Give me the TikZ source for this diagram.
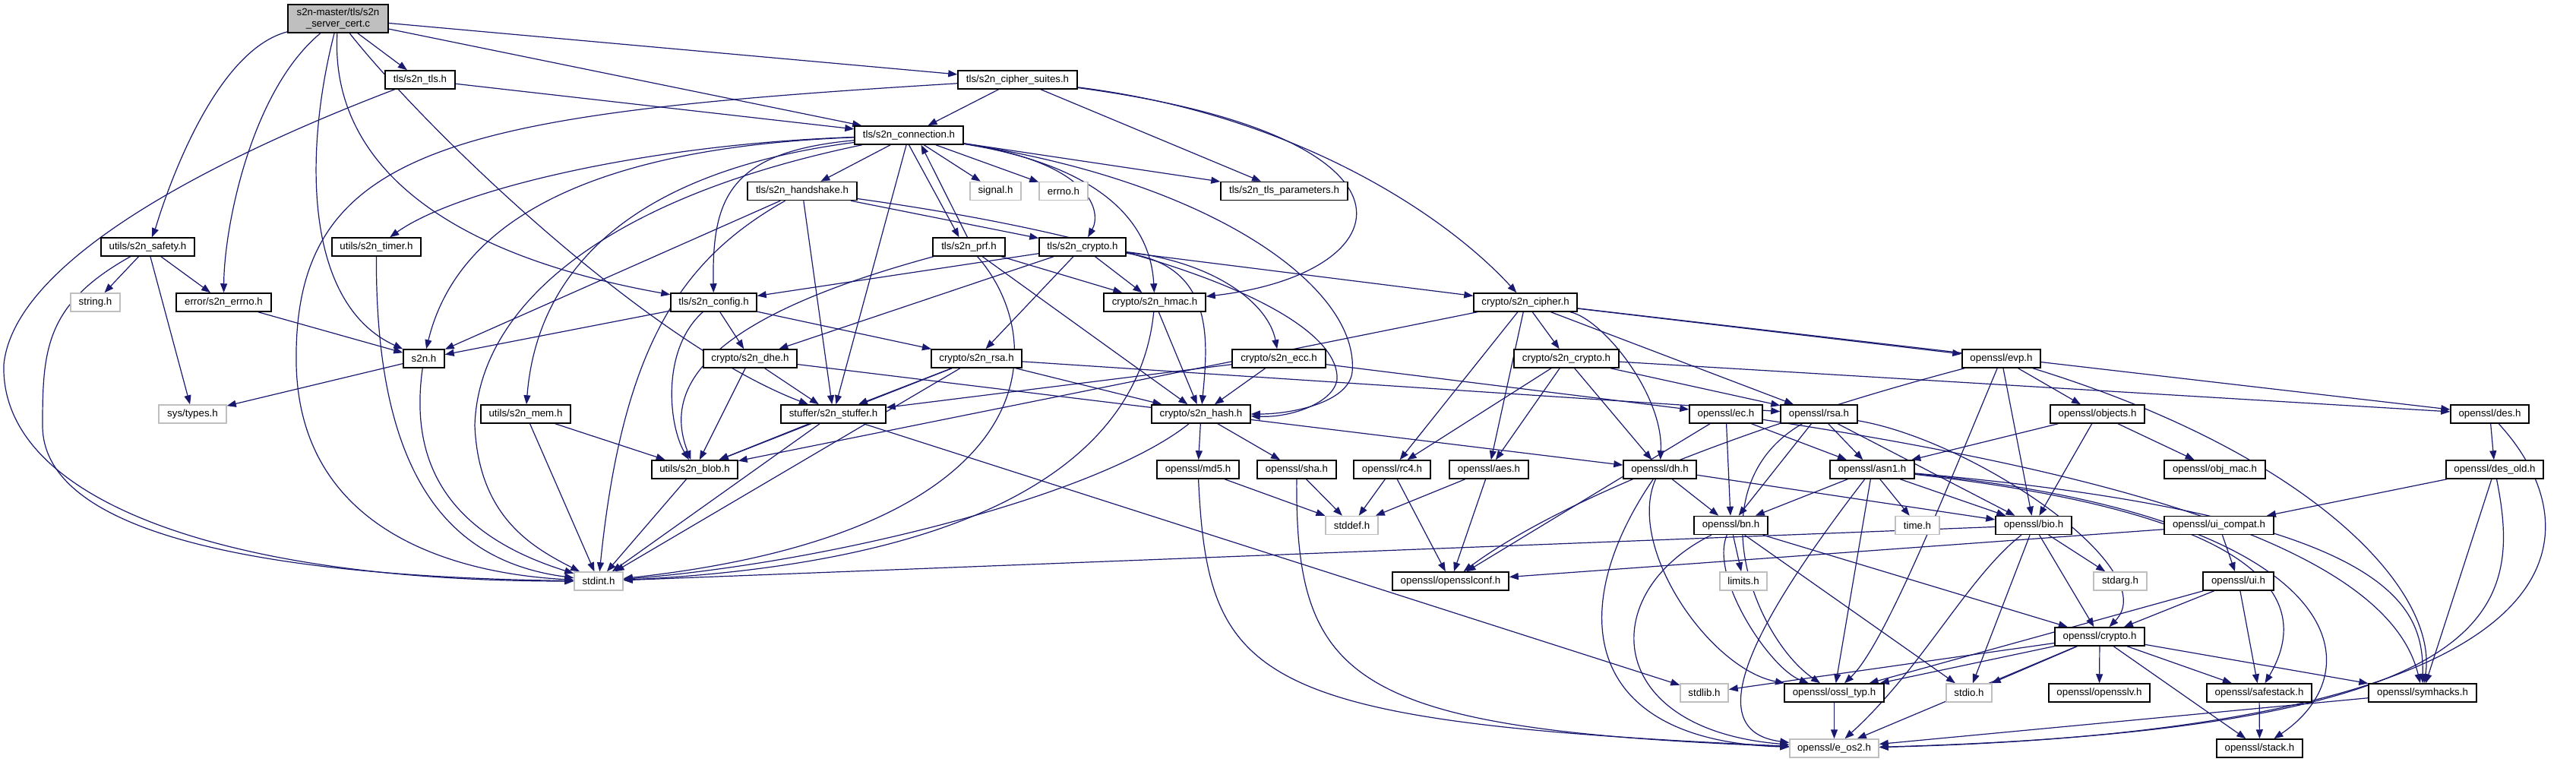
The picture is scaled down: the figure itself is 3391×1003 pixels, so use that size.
\documentclass[tikz,border=0pt]{standalone}
\usepackage{fontspec}
\setmainfont{Liberation Sans}
\usetikzlibrary{arrows.meta}
\definecolor{edgec}{HTML}{191970}
\definecolor{grayb}{HTML}{BFBFBF}
\pgfdeclarelayer{bg}
\pgfsetlayers{bg,main}
\tikzset{
 hdr/.style={draw=black, line width=1.5pt, fill=white, minimum height=24pt, inner sep=0pt, text=black, font=\fontsize{13.3pt}{15pt}\selectfont},
 sys/.style={hdr, draw=grayb},
 e/.style={draw=edgec, line width=1.2pt, -{Triangle[length=12pt,width=9pt]}},
}
\begin{document}
\begin{tikzpicture}[x=1pt,y=-1pt]
\useasboundingbox (0,0) rectangle (3391,1003);
% nodes
\node[hdr, fill=grayb, minimum width=132pt, minimum height=37pt, align=center] (root) at (445,24.5) {s2n-master/tls/s2n\\\_server\_cert.c};
\node[hdr, minimum width=92pt] (tlsh) at (553,105) {tls/s2n\_tls.h};
\node[hdr, minimum width=157pt] (suites) at (1339.5,105) {tls/s2n\_cipher\_suites.h};
\node[hdr, minimum width=143pt] (conn) at (1196.5,178) {tls/s2n\_connection.h};
\node[hdr, minimum width=144pt] (hs) at (1056,251.5) {tls/s2n\_handshake.h};
\node[sys, minimum width=67pt] (signal) at (1310.5,251.5) {signal.h};
\node[sys, minimum width=64pt] (errno) at (1400,251.5) {errno.h};
\node[hdr, minimum width=167pt] (params) at (1690.5,251.5) {tls/s2n\_tls\_parameters.h};
\node[hdr, minimum width=123pt] (safety) at (194.5,325) {utils/s2n\_safety.h};
\node[hdr, minimum width=117pt] (timer) at (495.5,325) {utils/s2n\_timer.h};
\node[hdr, minimum width=95pt] (prf) at (1275.5,325) {tls/s2n\_prf.h};
\node[hdr, minimum width=114pt] (tcrypto) at (1425,325) {tls/s2n\_crypto.h};
\node[sys, minimum width=65pt] (strh) at (125.5,398) {string.h};
\node[hdr, minimum width=125pt] (errh) at (294.5,398) {error/s2n\_errno.h};
\node[hdr, minimum width=113pt] (config) at (939.5,398) {tls/s2n\_config.h};
\node[hdr, minimum width=134pt] (hmac) at (1520,398) {crypto/s2n\_hmac.h};
\node[hdr, minimum width=136pt] (cipher) at (2008,398) {crypto/s2n\_cipher.h};
\node[hdr, minimum width=54pt] (s2nh) at (558,472) {s2n.h};
\node[hdr, minimum width=123pt] (dhe) at (987.5,472) {crypto/s2n\_dhe.h};
\node[hdr, minimum width=119pt] (rsa) at (1285.5,472) {crypto/s2n\_rsa.h};
\node[hdr, minimum width=123pt] (ecc) at (1683.5,472) {crypto/s2n\_ecc.h};
\node[hdr, minimum width=138pt] (ccrypto) at (2062,472) {crypto/s2n\_crypto.h};
\node[hdr, minimum width=103pt] (evp) at (2634.5,472) {openssl/evp.h};
\node[sys, minimum width=89pt] (systypes) at (253.5,545) {sys/types.h};
\node[hdr, minimum width=118pt] (mem) at (692,545) {utils/s2n\_mem.h};
\node[hdr, minimum width=138pt] (stuffer) at (1097,545) {stuffer/s2n\_stuffer.h};
\node[hdr, minimum width=130pt] (hash) at (1581,545) {crypto/s2n\_hash.h};
\node[hdr, minimum width=96pt] (oec) at (2272,545) {openssl/ec.h};
\node[hdr, minimum width=101pt] (orsa) at (2394.5,545) {openssl/rsa.h};
\node[hdr, minimum width=124pt] (objects) at (2761,545) {openssl/objects.h};
\node[hdr, minimum width=103pt] (des) at (3277.5,545) {openssl/des.h};
\node[hdr, minimum width=113pt] (blob) at (914.5,618) {utils/s2n\_blob.h};
\node[hdr, minimum width=108pt] (md5) at (1577,618) {openssl/md5.h};
\node[hdr, minimum width=104pt] (sha) at (1707,618) {openssl/sha.h};
\node[hdr, minimum width=101pt] (rc4) at (1832.5,618) {openssl/rc4.h};
\node[hdr, minimum width=104pt] (aes) at (1960,618) {openssl/aes.h};
\node[hdr, minimum width=96pt] (dh) at (2185,618) {openssl/dh.h};
\node[hdr, minimum width=111pt] (asn1) at (2464.5,618) {openssl/asn1.h};
\node[hdr, minimum width=133pt] (objmac) at (2915.5,618) {openssl/obj\_mac.h};
\node[hdr, minimum width=128pt] (desold) at (3284,618) {openssl/des\_old.h};
\node[sys, minimum width=69pt] (stddef) at (1779.5,691.5) {stddef.h};
\node[hdr, minimum width=97pt] (bn) at (2278.5,691.5) {openssl/bn.h};
\node[sys, minimum width=58pt] (timeh) at (2524,691.5) {time.h};
\node[hdr, minimum width=100pt] (bio) at (2677,691.5) {openssl/bio.h};
\node[hdr, minimum width=144pt] (uicompat) at (2921,691.5) {openssl/ui\_compat.h};
\node[sys, minimum width=64pt] (stdint) at (788,765) {stdint.h};
\node[hdr, minimum width=153pt] (conf) at (1909.5,765) {openssl/opensslconf.h};
\node[sys, minimum width=62pt] (limits) at (2295,765) {limits.h};
\node[sys, minimum width=70pt] (stdarg) at (2791,765) {stdarg.h};
\node[hdr, minimum width=93pt] (ui) at (2946.5,765) {openssl/ui.h};
\node[hdr, minimum width=118pt] (ocrypto) at (2764,838) {openssl/crypto.h};
\node[sys, minimum width=63pt] (stdlib) at (2243.5,912) {stdlib.h};
\node[hdr, minimum width=131pt] (ossltyp) at (2414.5,912) {openssl/ossl\_typ.h};
\node[sys, minimum width=60pt] (stdio) at (2592,912) {stdio.h};
\node[hdr, minimum width=133pt] (opensslv) at (2763.5,912) {openssl/opensslv.h};
\node[hdr, minimum width=138pt] (safestack) at (2974,912) {openssl/safestack.h};
\node[hdr, minimum width=142pt] (symhacks) at (3189,912) {openssl/symhacks.h};
\node[sys, minimum width=117pt] (eos2) at (2414.5,985) {openssl/e\_os2.h};
\node[hdr, minimum width=113pt] (stack) at (2974.5,985) {openssl/stack.h};
% edges
\begin{pgfonlayer}{bg}
% root
\draw[e] (root) .. controls (270,70) and (205,300) .. (safety);
\draw[e] (root) .. controls (330,120) and (295,300) .. (errh);
\draw[e] (root) .. controls (400,200) and (400,400) .. (s2nh);
\draw[e] (root) .. controls (435,200) and (560,330) .. (config);
\draw[e] (root) .. controls (560,170) and (850,450) .. (stuffer);
\draw[e] (root) -- (tlsh);
\draw[e] (root) -- (conn);
\draw[e] (root) -- (suites);
% tls.h
\draw[e] (tlsh) -- (conn);
\draw[e] (tlsh) .. controls (330,190) and (20,330) .. (5,480) .. controls (0,660) and (300,765) .. (stdint);
% cipher suites
\draw[e] (suites) -- (conn);
\draw[e] (suites) -- (params);
\draw[e] (suites) .. controls (1700,150) and (1900,280) .. (cipher);
\draw[e] (suites) .. controls (1900,180) and (1850,360) .. (hmac);
\draw[e] (suites) .. controls (600,150) and (385,190) .. (390,480) .. controls (395,700) and (600,755) .. (stdint);
% connection
\draw[e] (conn) -- (hs);
\draw[e] (conn) -- (signal);
\draw[e] (conn) -- (errno);
\draw[e] (conn) -- (params);
\draw[e] (conn.south) -- ([xshift=-13pt]prf.north);
\draw[e] ([xshift=-2pt]prf.north) -- ([xshift=16pt]conn.south);
\draw[e] (conn) .. controls (1440,215) and (1450,280) .. (tcrypto);
\draw[e] (conn) .. controls (1460,220) and (1515,300) .. (hmac);
\draw[e] (conn) .. controls (960,200) and (937,260) .. (config);
\draw[e] (conn) .. controls (850,190) and (600,250) .. (timer);
\draw[e] (conn) .. controls (760,195) and (600,300) .. (s2nh);
\draw[e] (conn) .. controls (800,230) and (705,380) .. (mem);
\draw[e] (conn) .. controls (800,260) and (630,400) .. (625,560) .. controls (630,680) and (700,720) .. (stdint);
\draw[e] (conn) -- (stuffer);
\draw[e] (conn) .. controls (1600,240) and (1790,380) .. (1780,490) .. controls (1775,530) and (1700,545) .. (hash);
% handshake
\draw[e] (hs) -- (s2nh);
\draw[e] (hs) -- (stuffer);
\draw[e] (hs) -- (tcrypto);
\draw[e] (hs) .. controls (1550,320) and (1765,420) .. (1760,500) .. controls (1755,530) and (1700,550) .. (hash);
\draw[e] (hs) .. controls (900,340) and (820,450) .. (stdint);
% prf
\draw[e] (prf) -- (hmac);
\draw[e] (prf) -- (hash);
\draw[e] (prf) .. controls (1000,400) and (860,480) .. (blob);
\draw[e] (prf) .. controls (1385,450) and (1380,700) .. (stdint);
% tls crypto
\draw[e] (tcrypto) -- (config);
\draw[e] (tcrypto) -- (cipher);
\draw[e] (tcrypto) -- (hmac);
\draw[e] (tcrypto) .. controls (1600,350) and (1590,450) .. (hash);
\draw[e] (tcrypto) -- (dhe);
\draw[e] (tcrypto) -- (rsa);
\draw[e] (tcrypto) .. controls (1600,345) and (1670,400) .. (ecc);
% config
\draw[e] (config) -- (s2nh);
\draw[e] (config) -- (dhe);
\draw[e] (config) -- (rsa);
\draw[e] (config) .. controls (870,460) and (880,560) .. (blob);
% hmac
\draw[e] (hmac) -- (hash);
\draw[e] (hmac) .. controls (1500,600) and (1300,740) .. (stdint);
% cipher
\draw[e] (cipher) -- (evp);
\draw[e] (cipher) -- (des);
\draw[e] (cipher) -- (orsa);
\draw[e] (cipher) -- (ccrypto);
\draw[e] (cipher) -- (rc4);
\draw[e] (cipher) -- (aes);
\draw[e] (cipher) .. controls (2110,420) and (2190,520) .. (dh);
\draw[e] (cipher) -- (blob);
% s2n crypto
\draw[e] (ccrypto) -- (rc4);
\draw[e] (ccrypto) -- (aes);
\draw[e] (ccrypto) -- (dh);
\draw[e] (ccrypto) -- (orsa);
\draw[e] (ccrypto) -- (des);
% dhe, rsa, ecc
\draw[e] (dhe) -- (stuffer);
\draw[e] (dhe) -- (blob);
\draw[e] (dhe) -- (dh);
\draw[e] (rsa) -- (stuffer);
\draw[e] (rsa) -- (blob);
\draw[e] (rsa) -- (stdint);
\draw[e] (rsa) -- (hash);
\draw[e] (rsa) -- (orsa);
\draw[e] (ecc) -- (stuffer);
\draw[e] (ecc) -- (hash);
\draw[e] (ecc) -- (oec);
% small s2n headers
\draw[e] (s2nh) -- (systypes);
\draw[e] (s2nh) .. controls (540,600) and (580,700) .. (stdint);
\draw[e] (errh) -- (s2nh);
\draw[e] (safety) -- (strh);
\draw[e] (safety) -- (errh);
\draw[e] (safety) -- (systypes);
\draw[e] (safety) .. controls (60,400) and (56,460) .. (56,560) .. controls (56,720) and (420,760) .. (stdint);
\draw[e] (timer) .. controls (494,640) and (600,740) .. (stdint);
\draw[e] (mem) -- (stdint);
\draw[e] (mem) -- (blob);
\draw[e] (stuffer) -- (stdint);
\draw[e] (stuffer) -- (blob);
\draw[e] (stuffer) -- (stdlib);
\draw[e] (blob) -- (stdint);
\draw[e] (hash) .. controls (1450,650) and (1100,740) .. (stdint);
\draw[e] (hash) -- (md5);
\draw[e] (hash) -- (sha);
% openssl
\draw[e] (md5) -- (stddef);
\draw[e] (md5) .. controls (1590,900) and (1650,950) .. (eos2);
\draw[e] (sha) -- (stddef);
\draw[e] (sha) .. controls (1705,900) and (1780,960) .. (eos2);
\draw[e] (rc4) -- (stddef);
\draw[e] (rc4) -- (conf);
\draw[e] (aes) -- (stddef);
\draw[e] (aes) -- (conf);
\draw[e] (oec) -- (conf);
\draw[e] (oec) -- (asn1);
\draw[e] (oec) -- (bn);
\draw[e] (oec) .. controls (2900,640) and (3150,750) .. (symhacks);
\draw[e] (orsa) -- (asn1);
\draw[e] (orsa) -- (bio);
\draw[e] (orsa) .. controls (2600,580) and (2850,750) .. (ocrypto);
\draw[e] (orsa) .. controls (2230,640) and (2310,840) .. (ossltyp);
\draw[e] (orsa) -- (bn);
\draw[e] (evp) -- (objects);
\draw[e] (evp) -- (bio);
\draw[e] (evp) .. controls (2300,560) and (2050,660) .. (conf);
\draw[e] (evp) .. controls (2560,650) and (2480,850) .. (ossltyp);
\draw[e] (evp) .. controls (3050,600) and (3210,780) .. (symhacks);
\draw[e] (objects) -- (objmac);
\draw[e] (objects) -- (bio);
\draw[e] (objects) -- (asn1);
\draw[e] (des) -- (desold);
\draw[e] (des) .. controls (3420,700) and (3420,960) .. (eos2);
\draw[e] (desold) -- (uicompat);
\draw[e] (desold) -- (symhacks);
\draw[e] (desold) .. controls (3320,800) and (3300,960) .. (eos2);
\draw[e] (dh) -- (bio);
\draw[e] (dh) .. controls (2140,720) and (2250,880) .. (ossltyp);
\draw[e] (dh) .. controls (2060,800) and (2080,975) .. (eos2);
\draw[e] (dh) -- (bn);
\draw[e] (asn1) -- (timeh);
\draw[e] (asn1) .. controls (2340,780) and (2220,960) .. (eos2);
\draw[e] (asn1) -- (bio);
\draw[e] (asn1) .. controls (3090,680) and (3130,880) .. (stack);
\draw[e] (asn1) .. controls (3010,680) and (3040,800) .. (safestack);
\draw[e] (asn1) .. controls (3160,680) and (3190,800) .. (symhacks);
\draw[e] (asn1) -- (ossltyp);
\draw[e] (asn1) -- (bn);
\draw[e] (bn) .. controls (2100,780) and (2110,960) .. (eos2);
\draw[e] (bn) -- (limits);
\draw[e] (bn) -- (stdio);
\draw[e] (bn) .. controls (2250,760) and (2330,880) .. (ossltyp);
\draw[e] (bn) -- (ocrypto);
\draw[e] (bio) .. controls (2590,760) and (2530,880) .. (eos2);
\draw[e] (bio) -- (stdio);
\draw[e] (bio) -- (stdarg);
\draw[e] (bio) -- (ocrypto);
\draw[e] (bio) -- (stdint);
\draw[e] (uicompat) -- (conf);
\draw[e] (uicompat) -- (ui);
\draw[e] (ui) -- (ocrypto);
\draw[e] (ui) -- (safestack);
\draw[e] (ui) -- (ossltyp);
\draw[e] (ocrypto) -- (stdlib);
\draw[e] (ocrypto) -- (eos2);
\draw[e] (ocrypto) -- (stdio);
\draw[e] (ocrypto) -- (stack);
\draw[e] (ocrypto) -- (safestack);
\draw[e] (ocrypto) -- (opensslv);
\draw[e] (ocrypto) -- (ossltyp);
\draw[e] (ocrypto) -- (symhacks);
\draw[e] (ossltyp) -- (eos2);
\draw[e] (safestack) -- (stack);
\draw[e] (symhacks) -- (eos2);
\end{pgfonlayer}
\end{tikzpicture}
\end{document}
